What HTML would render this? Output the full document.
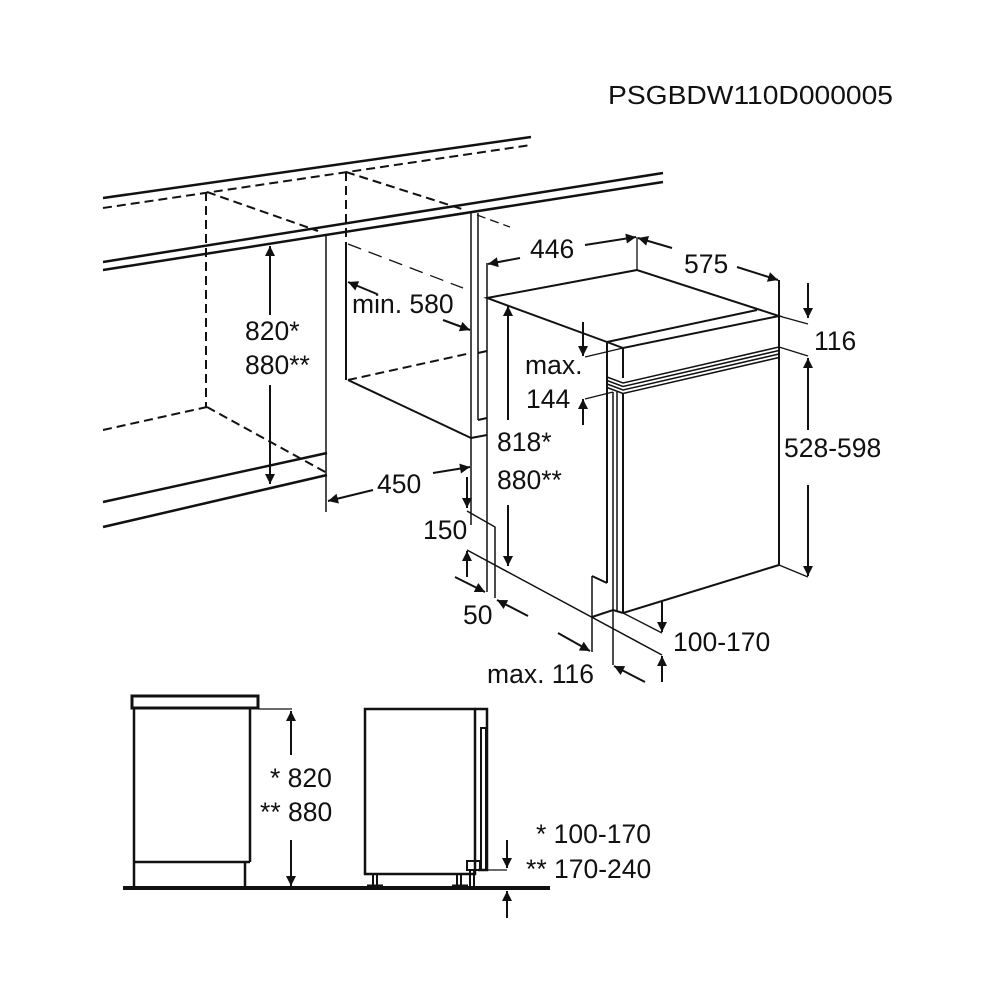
<!DOCTYPE html>
<html><head><meta charset="utf-8"><style>
html,body{margin:0;padding:0;background:#fff;}
svg{display:block;}
text{font-family:"Liberation Sans",Arial,sans-serif;fill:#111;}
</style></head><body>
<svg width="1000" height="1000" viewBox="0 0 1000 1000" xmlns="http://www.w3.org/2000/svg">
<defs>
<marker id="a" viewBox="0 0 10 10" refX="10" refY="5" markerWidth="17" markerHeight="10" markerUnits="userSpaceOnUse" orient="auto"><path d="M0,0 L10,5 L0,10 z" fill="#111"/></marker>
</defs>
<g stroke="#111" fill="none" stroke-width="2">
<line x1="103" y1="198" x2="531" y2="137" stroke-width="2.5"/>
<line x1="103" y1="208" x2="531" y2="145" stroke-dasharray="9,5"/>
<line x1="103" y1="262" x2="663" y2="173" stroke-width="2.5"/>
<line x1="103" y1="270" x2="663" y2="182" stroke-width="2.5"/>
<line x1="206" y1="192" x2="206" y2="408" stroke-dasharray="9,5"/>
<line x1="207" y1="192" x2="318" y2="231" stroke-dasharray="9,5"/>
<line x1="346" y1="172" x2="346" y2="244" stroke-dasharray="9,5"/>
<line x1="346" y1="244" x2="346" y2="380"/>
<line x1="346" y1="172" x2="462" y2="209" stroke-dasharray="9,5"/>
<line x1="477" y1="215" x2="510" y2="227" stroke-dasharray="9,5" stroke-width="1.3"/>
<line x1="348" y1="244" x2="463" y2="288" stroke-dasharray="14,8" stroke-width="1.3"/>
<line x1="103" y1="430" x2="207" y2="407" stroke-dasharray="9,5"/>
<line x1="207" y1="407" x2="327" y2="473" stroke-dasharray="9,5"/>
<line x1="103" y1="502" x2="327" y2="453" stroke-width="2.5"/>
<line x1="103" y1="527" x2="327" y2="475" stroke-width="2.5"/>
<line x1="326" y1="235" x2="326" y2="512" stroke-width="1.5"/>
<line x1="348" y1="380" x2="471" y2="353" stroke-dasharray="9,5"/>
<line x1="348" y1="380" x2="471" y2="438"/>
<line x1="471" y1="438" x2="487" y2="435"/>
<line x1="478" y1="420" x2="487" y2="418"/>
<line x1="478" y1="353" x2="487" y2="351"/>
<line x1="471" y1="212" x2="471" y2="525" stroke-width="1.5"/>
<line x1="478" y1="213" x2="478" y2="420" stroke-width="1.5"/>
<line x1="487" y1="263" x2="487" y2="592" stroke-width="1.5"/>
<path d="M487,298 L637,270 L779,316 L623,348 L607,342 Z"/>
<line x1="607" y1="342" x2="757" y2="310"/>
<line x1="637" y1="237" x2="637" y2="270" stroke-width="1.3"/>
<line x1="779" y1="280" x2="779" y2="565"/>
<line x1="779" y1="316" x2="808" y2="324" stroke-width="1.3"/>
<line x1="779" y1="347" x2="808" y2="356" stroke-width="1.3"/>
<line x1="779" y1="565" x2="808" y2="577" stroke-width="1.3"/>
<line x1="623" y1="348" x2="623" y2="378"/>
<path d="M607,377 L623,383 L779,347" stroke-width="1.5"/>
<path d="M607,380.5 L623,386.5 L779,350.5" stroke-width="1.5"/>
<path d="M607,384 L623,390 L779,354" stroke-width="1.5"/>
<path d="M607,387.5 L623,393.5 L779,357.5" stroke-width="1.5"/>
<line x1="607" y1="342" x2="607" y2="583"/>
<line x1="613" y1="392" x2="613" y2="665" stroke-width="1.5"/>
<line x1="617" y1="392" x2="617" y2="612" stroke-width="1.5"/>
<line x1="623" y1="393" x2="623" y2="613"/>
<line x1="623" y1="613" x2="779" y2="565"/>
<line x1="592" y1="576" x2="607" y2="583"/>
<line x1="592" y1="576" x2="592" y2="652" stroke-width="1.5"/>
<path d="M592,617 L613,610 L623,613"/>
<line x1="467" y1="550" x2="662" y2="655" stroke-width="1.5"/>
<line x1="623" y1="613" x2="662" y2="633" stroke-width="1.3"/>
<path d="M467,511 L495,527 L495,598" stroke-width="1.5"/>
<line x1="585" y1="357" x2="623" y2="348" stroke-width="1.3"/>
<line x1="585" y1="399" x2="613" y2="392" stroke-width="1.3"/>
</g>
<g stroke="#111" stroke-width="2" fill="none" marker-end="url(#a)">
<line x1="270" y1="315" x2="270" y2="246"/>
<line x1="270" y1="385" x2="270" y2="484"/>
<line x1="377" y1="294" x2="348" y2="282"/>
<line x1="443" y1="320" x2="470" y2="330"/>
<line x1="373" y1="490" x2="328" y2="501"/>
<line x1="433" y1="473" x2="470" y2="467"/>
<line x1="467" y1="477" x2="467" y2="508"/>
<line x1="467" y1="577" x2="467" y2="551"/>
<line x1="455" y1="577" x2="485" y2="592"/>
<line x1="528" y1="616" x2="497" y2="600"/>
<line x1="520" y1="258" x2="488" y2="264"/>
<line x1="585" y1="245" x2="636" y2="237"/>
<line x1="672" y1="248" x2="638" y2="238"/>
<line x1="737" y1="267" x2="778" y2="280"/>
<line x1="808" y1="283" x2="808" y2="318"/>
<line x1="808" y1="430" x2="808" y2="358"/>
<line x1="808" y1="485" x2="808" y2="576"/>
<line x1="508" y1="420" x2="508" y2="306"/>
<line x1="508" y1="505" x2="508" y2="566"/>
<line x1="583" y1="322" x2="583" y2="356"/>
<line x1="583" y1="425" x2="583" y2="399"/>
<line x1="662" y1="602" x2="662" y2="632"/>
<line x1="662" y1="682" x2="662" y2="656"/>
<line x1="558" y1="633" x2="590" y2="651"/>
<line x1="645" y1="682" x2="614" y2="666"/>
</g>
<g stroke="#111" fill="none" stroke-width="2.5">
<rect x="132" y="696" width="126" height="12" stroke-width="3"/>
<path d="M134,708 L134,887 M250,708 L250,862 M134,862 L250,862 M245,862 L245,887"/>
<line x1="123" y1="888" x2="550" y2="888" stroke-width="4"/>
<line x1="258" y1="709" x2="292" y2="709" stroke-width="1.3"/>
<rect x="365" y="709" width="110" height="165"/>
<path d="M475,709 L487,709 L487,870 L478,870"/>
<rect x="481" y="728" width="5" height="142" stroke-width="2"/>
<rect x="467" y="861" width="13" height="9" stroke-width="2"/>
<path d="M470,870 L470,887 M474,870 L474,887" stroke-width="2"/>
<path d="M373,874 L373,887 M377,874 L377,887 M457,874 L457,887 M461,874 L461,887" stroke-width="2"/>
<path d="M367,886 L383,886 M452,886 L468,886" stroke-width="3"/>
<line x1="487" y1="870" x2="507" y2="870" stroke-width="1.3"/>
</g>
<g stroke="#111" stroke-width="2" fill="none" marker-end="url(#a)">
<line x1="291" y1="755" x2="291" y2="711"/>
<line x1="291" y1="840" x2="291" y2="886"/>
<line x1="507" y1="840" x2="507" y2="868"/>
<line x1="507" y1="918" x2="507" y2="891"/>
</g>
<g font-size="26.5">
<text x="608" y="104" font-size="26" textLength="285" lengthAdjust="spacingAndGlyphs">PSGBDW110D000005</text>
<text x="245" y="340">820*</text>
<text x="245" y="374">880**</text>
<text x="352" y="313">min. 580</text>
<text x="377" y="493">450</text>
<text x="530" y="258">446</text>
<text x="684" y="273">575</text>
<text x="814" y="350">116</text>
<text x="525" y="374">max.</text>
<text x="526" y="408">144</text>
<text x="497" y="451">818*</text>
<text x="497" y="489">880**</text>
<text x="784" y="457">528-598</text>
<text x="423" y="539">150</text>
<text x="463" y="624">50</text>
<text x="673" y="651">100-170</text>
<text x="487" y="683">max. 116</text>
<text x="270" y="787">* 820</text>
<text x="260" y="821">** 880</text>
<text x="536" y="843">* 100-170</text>
<text x="526" y="878">** 170-240</text>
</g>
</svg>
</body></html>
